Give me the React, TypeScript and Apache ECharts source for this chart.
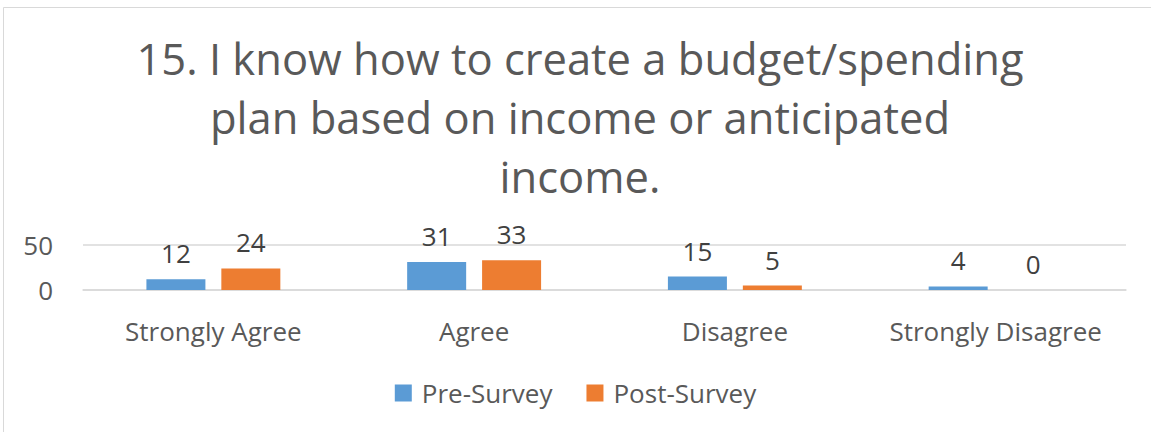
import React, { useEffect, useRef } from "react";
import * as echarts from "echarts";

const categories = ["Strongly Agree", "Agree", "Disagree", "Strongly Disagree"];
const preSurvey = [12, 31, 15, 4];
const postSurvey = [24, 33, 5, 0];
const titleLines = [
  "15. I know how to create a budget/spending",
  "plan based on income or anticipated",
  "income.",
];
const FONT = "'Open Sans', sans-serif";

export default function App() {
  const ref = useRef<HTMLDivElement>(null);
  useEffect(() => {
    if (!ref.current) return;
    const chart = echarts.init(ref.current, undefined, { renderer: "svg" });
    chart.setOption({
      animation: false,
      backgroundColor: "#ffffff",
      textStyle: { fontFamily: FONT },
      graphic: [
        {
          type: "rect",
          shape: { x: 3.5, y: 7.5, width: 1200, height: 500 },
          style: { fill: "none", stroke: "#d9d9d9", lineWidth: 1 },
          silent: true,
        },
        {
          type: "text",
          x: 580,
          y: 29,
          style: {
            text: titleLines.join("\n"),
            fontSize: 43.5,
            lineHeight: 59,
            fontFamily: FONT,
            fill: "#595959",
            textAlign: "center",
            textVerticalAlign: "top",
          },
        },
      ],
      legend: {
        data: ["Pre-Survey", "Post-Survey"],
        top: 375,
        left: "center",
        itemWidth: 17,
        itemHeight: 17,
        itemGap: 34,
        icon: "rect",
        textStyle: { fontSize: 26, color: "#595959", fontFamily: FONT, padding: [0, 0, 0, 5] },
      },
      grid: { left: 83, right: 25, top: 245, bottom: 142, containLabel: false },
      xAxis: {
        type: "category",
        data: categories,
        axisLine: { lineStyle: { color: "#d9d9d9", width: 1.5 } },
        axisTick: { show: false },
        axisLabel: { interval: 0, fontSize: 26, color: "#595959", margin: 28, fontFamily: FONT },
      },
      yAxis: {
        type: "value",
        min: 0,
        max: 50,
        interval: 50,
        axisLine: { show: false },
        axisTick: { show: false },
        splitLine: { lineStyle: { color: "#d9d9d9", width: 1.5 } },
        axisLabel: { fontSize: 26, color: "#595959", margin: 30, fontFamily: FONT },
      },
      series: [
        {
          name: "Pre-Survey",
          type: "bar",
          data: preSurvey,
          barWidth: 59,
          barGap: "27%",
          itemStyle: { color: "#5b9bd5" },
          label: { show: true, position: "top", distance: 13, fontSize: 26, color: "#404040", fontFamily: FONT },
        },
        {
          name: "Post-Survey",
          type: "bar",
          data: postSurvey,
          barWidth: 59,
          barGap: "27%",
          itemStyle: { color: "#ed7d31" },
          label: { show: true, position: "top", distance: 13, fontSize: 26, color: "#404040", fontFamily: FONT },
        },
      ],
    });
    return () => chart.dispose();
  }, []);
  return (
    <div
      ref={ref}
      style={{ position: "absolute", left: 0, top: 0, width: 1151, height: 432 }}
    />
  );
}
